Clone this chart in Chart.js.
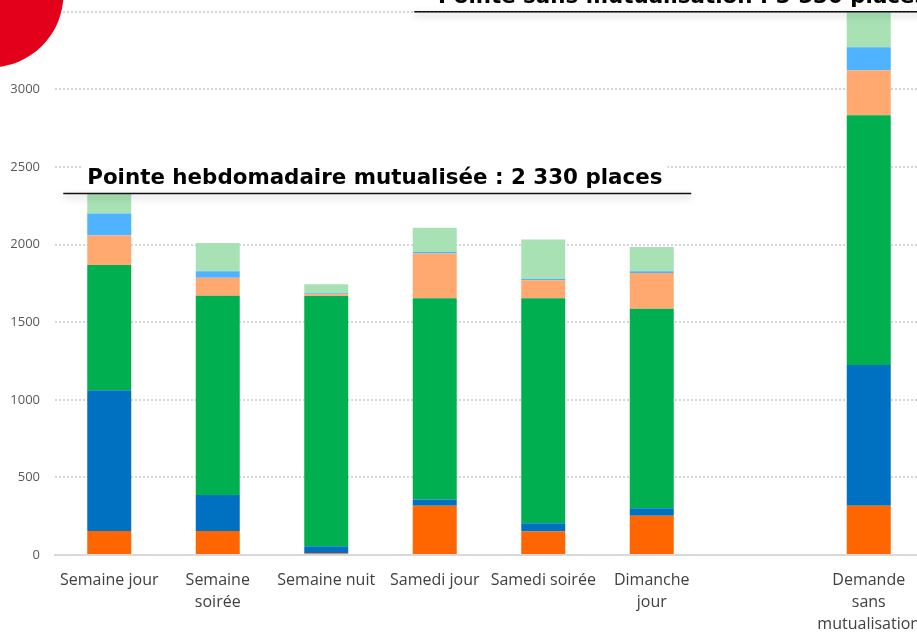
<!DOCTYPE html>
<html>
<head>
<meta charset="utf-8">
<script src="https://cdn.jsdelivr.net/npm/chart.js@4.4.1/dist/chart.umd.min.js"></script>
<style>
  html, body { margin: 0; padding: 0; background: #ffffff; }
  #wrap { position: relative; width: 917px; height: 632px; overflow: hidden; background: #ffffff; }
  #c { position: absolute; left: 0; top: -11px; }
</style>
</head>
<body>
<div id="wrap"><canvas id="c" width="960" height="643"></canvas></div>
<script>
// ---- data ----
const categories = ['Semaine jour', ['Semaine', 'soirée'], 'Semaine nuit', 'Samedi jour', 'Samedi soirée', ['Dimanche', 'jour'], '', ['Demande', 'sans', 'mutualisation']];
const seriesNames = ['Usage 1', 'Usage 2', 'Usage 3', 'Usage 4', 'Usage 5', 'Usage 6'];
const serie1 = [154, 154, 12, 317, 152, 253, null, 317];
const serie2 = [908, 232, 44, 41, 52, 49, null, 908];
const serie3 = [806, 1285, 1613, 1296, 1450, 1285, null, 1609];
const serie4 = [191, 116, 11, 289, 116, 230, null, 289];
const serie5 = [141, 42, 6, 9, 8, 11, null, 148];
const serie6 = [130, 181, 58, 157, 255, 156, null, 259];
const yTicks = [0, 500, 1000, 1500, 2000, 2500, 3000, 3500];
const peakLabels = ['Pointe hebdomadaire mutualisée : 2 330 places', 'Pointe sans mutualisation : 3 530 places'];
const peakLevels = [2330, 3500];

const colors = ['#FF6600', '#0070C0', '#00B050', '#FFA970', '#4FB3FF', '#A8E2B4'];
const allSeries = [serie1, serie2, serie3, serie4, serie5, serie6];

// annotation geometry (in category-index units)
const peakSpans = [{ from: -0.424, to: 5.364, text: -0.203 }, { from: 2.811, to: 8.2, text: 3.03 }];

const peakPlugin = {
  id: 'peaks',
  afterDatasetsDraw(chart) {
    const ctx = chart.ctx;
    const xs = chart.scales.x, ys = chart.scales.y;
    peakLabels.forEach((txt, i) => {
      const y = ys.getPixelForValue(peakLevels[i]);
      const x1 = xs.getPixelForValue(peakSpans[i].from);
      const x2 = xs.getPixelForValue(peakSpans[i].to);
      const tx = xs.getPixelForValue(peakSpans[i].text);
      ctx.save();
      ctx.font = 'bold 21.4px "DejaVu Sans"';
      const w = ctx.measureText(txt).width;
      ctx.fillStyle = '#ffffff';
      ctx.fillRect(tx - 5, y - 30, w + 10, 29);
      // line with soft shadow
      ctx.shadowColor = 'rgba(0,0,0,0.35)';
      ctx.shadowBlur = 7;
      ctx.shadowOffsetY = 3;
      ctx.strokeStyle = '#111111';
      ctx.lineWidth = 1.5;
      ctx.beginPath();
      ctx.moveTo(x1, y);
      ctx.lineTo(x2, y);
      ctx.stroke();
      ctx.shadowColor = 'transparent';
      ctx.fillStyle = '#000000';
      ctx.textBaseline = 'alphabetic';
      ctx.fillText(txt, tx, y - 9);
      ctx.restore();
    });
  },
  afterDraw(chart) {
    const ctx = chart.ctx;
    ctx.save();
    ctx.fillStyle = '#E2001A';
    ctx.beginPath();
    ctx.arc(-10, 5, 73.5, 0, Math.PI * 2);
    ctx.fill();
    ctx.restore();
  }
};

new Chart(document.getElementById('c'), {
  type: 'bar',
  data: {
    labels: categories,
    datasets: allSeries.map((d, i) => ({
      label: seriesNames[i],
      data: d,
      backgroundColor: colors[i],
      borderWidth: 0,
      categoryPercentage: 1,
      barPercentage: 0.4055
    }))
  },
  options: {
    responsive: false,
    animation: false,
    devicePixelRatio: 1,
    layout: { padding: { top: 0, right: 37, left: 0, bottom: 0 } },
    plugins: { legend: { display: false }, tooltip: { enabled: false } },
    scales: {
      x: {
        stacked: true,
        grid: { display: false, drawTicks: false },
        border: { display: true, color: '#d9d9d9', width: 2 },
        ticks: {
          autoSkip: false, maxRotation: 0, minRotation: 0, padding: 14,
          color: '#404040',
          font: { family: '"Open Sans"', size: 16, lineHeight: 1.375 }
        },
        afterFit(s) { s.height = 77; }
      },
      y: {
        stacked: true,
        min: 0, max: 3500,
        afterBuildTicks(s) { s.ticks = yTicks.map(v => ({ value: v })); },
        grid: { color: '#d6d6d6', lineWidth: 2, drawTicks: false },
        border: { display: false, dash: [2, 2] },
        ticks: {
          padding: 15, color: '#595959',
          font: { family: '"Open Sans"', size: 13 },
          callback: v => String(v)
        },
        afterFit(s) { s.width = 55; }
      }
    }
  },
  plugins: [peakPlugin]
});
</script>
</body>
</html>
